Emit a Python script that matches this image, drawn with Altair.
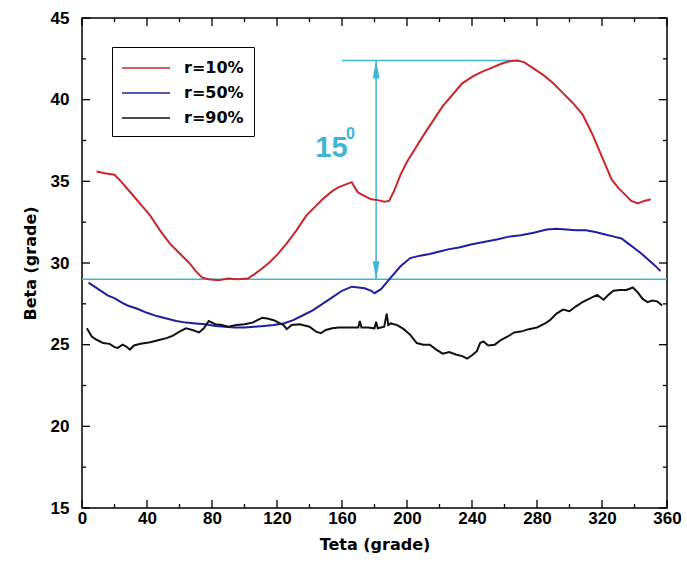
import altair as alt
import pandas as pd

# ---------------- data ----------------
series_names = ["r=10%", "r=50%", "r=90%"]
series_colors = ["#c8262b", "#1f1f9e", "#111111"]

red_x = [9, 14, 20, 24, 30, 36, 42, 48, 54, 60, 66, 70, 74, 78, 84, 90, 96, 102, 106, 110,
         115, 120, 126, 132, 138, 142, 148, 154, 158, 162, 166, 168, 170, 174, 178, 182, 186,
         189, 192, 196, 200, 205, 210, 216, 222, 228, 234, 240, 246, 252, 258, 263, 268, 272,
         278, 284, 290, 296, 302, 308, 314, 320, 326, 330, 334, 338, 342, 346, 350]
red_y = [35.6, 35.5, 35.4, 35.0, 34.3, 33.6, 32.9, 32.0, 31.2, 30.6, 30.0, 29.5, 29.1, 29.0,
         28.95, 29.05, 29.0, 29.05, 29.3, 29.6, 30.0, 30.5, 31.2, 32.0, 32.9, 33.3, 33.9, 34.4,
         34.65, 34.8, 34.95, 34.6, 34.3, 34.1, 33.9, 33.85, 33.75, 33.8, 34.4, 35.4, 36.2, 37.0,
         37.8, 38.7, 39.6, 40.3, 41.0, 41.4, 41.7, 41.95, 42.2, 42.35, 42.4, 42.3, 41.9, 41.5,
         41.0, 40.4, 39.8, 39.1, 37.9, 36.5, 35.1, 34.6, 34.2, 33.8, 33.65, 33.8, 33.9]

blue_x = [4, 10, 16, 20, 24, 28, 34, 40, 46, 52, 58, 64, 70, 76, 82, 88, 94, 100, 106, 112,
          118, 124, 130, 136, 142, 148, 154, 160, 166, 170, 174, 178, 180, 184, 190, 196, 202,
          208, 214, 220, 226, 232, 240, 248, 256, 262, 270, 278, 286, 292, 298, 304, 310, 316,
          322, 328, 332, 336, 340, 344, 348, 352, 356]
blue_y = [28.8, 28.4, 28.0, 27.85, 27.6, 27.4, 27.2, 26.95, 26.75, 26.6, 26.45, 26.35, 26.3,
          26.25, 26.15, 26.1, 26.05, 26.05, 26.1, 26.15, 26.2, 26.3, 26.5, 26.8, 27.1, 27.5,
          27.9, 28.3, 28.55, 28.5, 28.45, 28.3, 28.15, 28.4, 29.1, 29.8, 30.3, 30.45, 30.55,
          30.7, 30.85, 30.95, 31.15, 31.3, 31.45, 31.6, 31.7, 31.85, 32.05, 32.1, 32.05, 32.0,
          32.0, 31.9, 31.75, 31.6, 31.5, 31.2, 30.9, 30.6, 30.25, 29.9, 29.5]

black_x = [3, 6, 9, 13, 17, 20, 22, 25, 27, 29.5, 32, 36, 42, 48, 52, 56, 60, 64, 68, 72, 75,
           78, 82, 86, 90, 95, 100, 105, 108, 111, 114, 118, 121, 124, 126, 129, 134, 140, 144,
           147, 150, 154, 158, 165, 170, 171, 172, 176, 180, 181, 182, 186, 187.5, 188.5, 190,
           194, 198, 202, 206, 210, 214, 218, 222, 226, 230, 234, 237, 240, 243, 245, 247, 250,
           254, 258, 262, 266, 270, 275, 280, 285, 288, 292, 296, 300, 304, 308, 312, 317, 321,
           324, 327, 331, 335, 339, 342, 345, 348, 351, 354, 357]
black_y = [26.0, 25.5, 25.3, 25.1, 25.05, 24.85, 24.8, 25.0, 24.9, 24.7, 24.95, 25.05, 25.15,
           25.3, 25.4, 25.55, 25.8, 26.0, 25.9, 25.75, 26.0, 26.45, 26.25, 26.2, 26.1, 26.2,
           26.25, 26.35, 26.5, 26.65, 26.6, 26.5, 26.35, 26.2, 25.95, 26.2, 26.25, 26.1, 25.8,
           25.7, 25.9, 26.0, 26.05, 26.05, 26.05, 26.45, 26.05, 26.05, 26.0, 26.4, 26.0, 26.1,
           26.9, 26.2, 26.3, 26.2, 25.95, 25.6, 25.1, 25.0, 25.0, 24.7, 24.45, 24.55, 24.4,
           24.3, 24.15, 24.35, 24.6, 25.1, 25.2, 24.95, 25.0, 25.3, 25.5, 25.75, 25.8, 25.95,
           26.05, 26.3, 26.5, 26.9, 27.15, 27.05, 27.35, 27.6, 27.8, 28.05, 27.75, 28.05, 28.3,
           28.35, 28.35, 28.5, 28.2, 27.8, 27.6, 27.7, 27.65, 27.4]

x_major = [0, 40, 80, 120, 160, 200, 240, 280, 320, 360]
x_minor = [20, 60, 100, 140, 180, 220, 260, 300, 340]
y_major = [15, 20, 25, 30, 35, 40, 45]
y_minor = [17.5, 22.5, 27.5, 32.5, 37.5, 42.5]

base_level = [29.0]
peak_level = [42.4]
peak_line_x = [160, 268]
arrow_x = [181]
ann_labels = ["15", "0"]
ann_x = [153.5, 162.5]
ann_y = [36.5, 37.6]

CYAN = "#3db5d5"
FONT = "Liberation Sans"
WIDE = "DejaVu Sans"

# ---------------- build tables ----------------
frames = []
for name, xs, ys in zip(series_names, [red_x, blue_x, black_x], [red_y, blue_y, black_y]):
    frames.append(pd.DataFrame({"teta": xs, "beta": ys, "serie": name}))
df = pd.concat(frames, ignore_index=True)

xsc = alt.Scale(domain=[0, 360], nice=False, zero=False)
ysc = alt.Scale(domain=[15, 45], nice=False, zero=False)

lines = alt.Chart(df).mark_line(strokeWidth=2).encode(
    x=alt.X("teta:Q", scale=xsc,
            axis=alt.Axis(values=x_major, title="Teta  (grade)", labelFontSize=17,
                          labelFontWeight="bold", labelFont=FONT, labelPadding=2,
                          titleFont=WIDE, titleFontSize=16, titleFontWeight="bold",
                          titlePadding=10, labelFlush=False)),
    y=alt.Y("beta:Q", scale=ysc,
            axis=alt.Axis(values=y_major, title="Beta  (grade)", labelFontSize=17,
                          labelFontWeight="bold", labelFont=FONT, labelPadding=13,
                          titleFont=WIDE, titleFontSize=16, titleFontWeight="bold",
                          titlePadding=12, labelFlush=False)),
    color=alt.Color("serie:N",
                    scale=alt.Scale(domain=series_names, range=series_colors),
                    legend=alt.Legend(orient="none", legendX=30, legendY=29, title=None,
                                      strokeColor="black", fillColor="white", padding=10,
                                      symbolType="M-2.4,0H2.4", symbolSize=400,
                                      symbolOffset=13, symbolStrokeWidth=1.5,
                                      labelFontSize=16, labelFont=WIDE,
                                      labelFontWeight="bold", labelOffset=27,
                                      rowPadding=6)),
)

base_rule = alt.Chart(pd.DataFrame({"beta": base_level})).mark_rule(
    color=CYAN, strokeWidth=1.5).encode(y="beta:Q")

peak_rule = alt.Chart(pd.DataFrame({"teta": [peak_line_x[0]], "teta2": [peak_line_x[1]],
                                    "beta": peak_level})).mark_rule(
    color=CYAN, strokeWidth=1.5).encode(x="teta:Q", x2="teta2:Q", y="beta:Q")

arrow_shaft = alt.Chart(pd.DataFrame({"teta": arrow_x, "beta": base_level,
                                      "beta2": peak_level})).mark_rule(
    color=CYAN, strokeWidth=1.5).encode(x="teta:Q", y="beta:Q", y2="beta2:Q")

head_up = alt.Chart(pd.DataFrame({"teta": arrow_x, "beta": [peak_level[0] - 0.55]})).mark_point(
    shape="M0,-1L0.38,1L-0.38,1Z", size=324, filled=True, color=CYAN, opacity=1
).encode(x="teta:Q", y="beta:Q")

head_down = alt.Chart(pd.DataFrame({"teta": arrow_x, "beta": [base_level[0] + 0.55]})).mark_point(
    shape="M0,1L0.38,-1L-0.38,-1Z", size=324, filled=True, color=CYAN, opacity=1
).encode(x="teta:Q", y="beta:Q")

ann_big = alt.Chart(pd.DataFrame({"teta": [ann_x[0]], "beta": [ann_y[0]],
                                  "t": [ann_labels[0]]})).mark_text(
    fontSize=29, fontWeight="bold", font=FONT, color=CYAN, align="center",
    baseline="alphabetic").encode(x="teta:Q", y="beta:Q", text="t:N")

ann_small = alt.Chart(pd.DataFrame({"teta": [ann_x[1]], "beta": [ann_y[1]],
                                    "t": [ann_labels[1]]})).mark_text(
    fontSize=16, fontWeight="bold", font=FONT, color=CYAN, align="left",
    baseline="alphabetic").encode(x="teta:Q", y="beta:Q", text="t:N")

# inward ticks on all four sides
def xticks(vals, length):
    d = pd.DataFrame({"teta": vals})
    bottom = alt.Chart(d).mark_rule(color="black", strokeWidth=1.3).encode(
        x="teta:Q", y=alt.value(490), y2=alt.value(490 - length))
    top = alt.Chart(d).mark_rule(color="black", strokeWidth=1.3).encode(
        x="teta:Q", y=alt.value(0), y2=alt.value(length))
    return [bottom, top]

def yticks(vals, length):
    d = pd.DataFrame({"beta": vals})
    left = alt.Chart(d).mark_rule(color="black", strokeWidth=1.3).encode(
        y="beta:Q", x=alt.value(0), x2=alt.value(length))
    right = alt.Chart(d).mark_rule(color="black", strokeWidth=1.3).encode(
        y="beta:Q", x=alt.value(585), x2=alt.value(585 - length))
    return [left, right]

tick_layers = xticks(x_major, 8) + xticks(x_minor, 4) + yticks(y_major, 8) + yticks(y_minor, 4)

chart = alt.layer(
    base_rule, peak_rule, arrow_shaft, head_up, head_down, ann_big, ann_small,
    lines, *tick_layers
).properties(
    width=585, height=490,
    autosize=alt.AutoSizeParams(type="none"),
    padding={"left": 82, "top": 18, "right": 20, "bottom": 57},
    background="white",
).configure_view(
    stroke="black", strokeWidth=1.5
).configure_axis(
    grid=False, domain=False, ticks=False, labelColor="black", titleColor="black"
)

chart.save("out.html", embed_options={"renderer": "svg", "actions": False})
